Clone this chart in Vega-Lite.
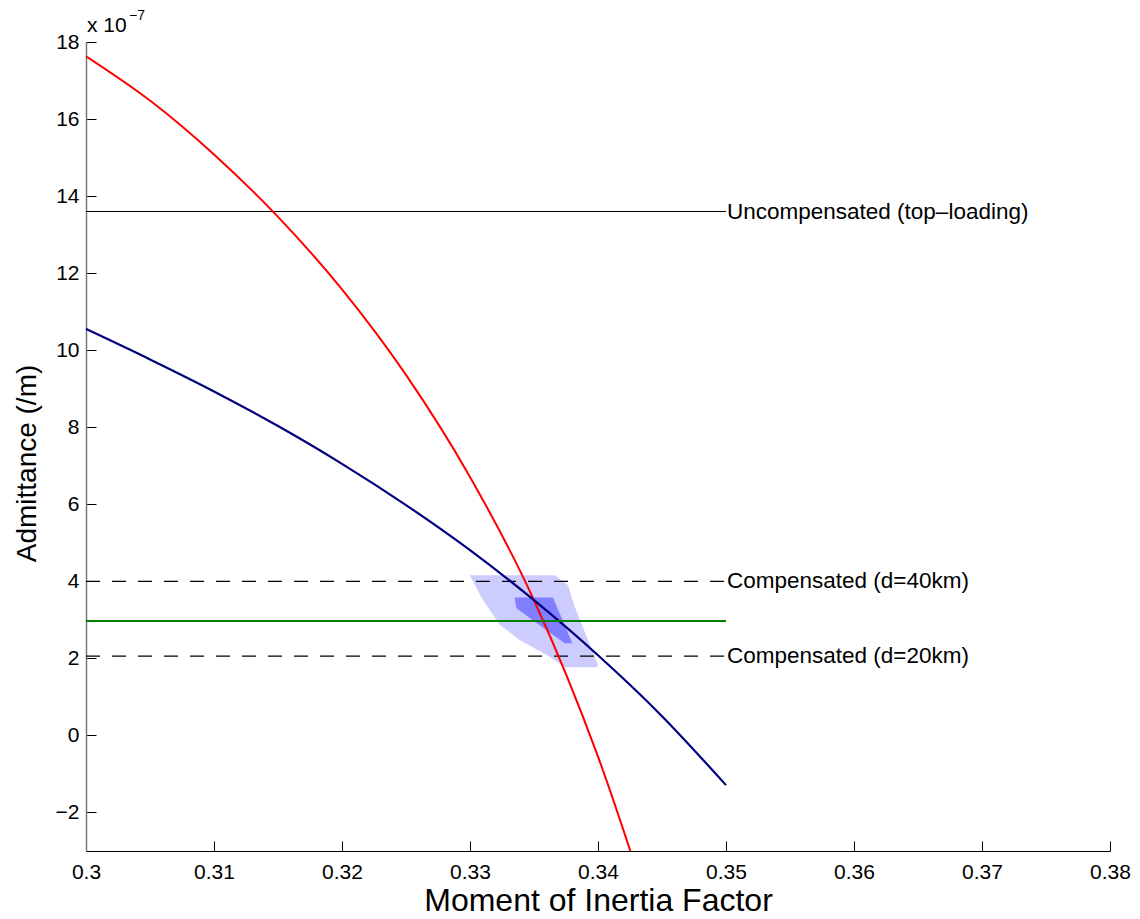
{
  "$schema": "https://vega.github.io/schema/vega-lite/v6.json",
  "autosize": {"type": "none"},
  "padding": {"left": 86, "top": 42, "right": 30, "bottom": 68},
  "width": 1024,
  "height": 809,
  "background": "white",
  "config": {
    "view": {"stroke": null},
    "font": "Liberation Sans",
    "axis": {
      "labelFont": "Liberation Sans",
      "titleFont": "Liberation Sans",
      "labelColor": "black",
      "titleColor": "black",
      "titleFontWeight": "normal",
      "domainColor": "black",
      "tickColor": "black",
      "grid": false
    }
  },
  "datasets": {
    "curves": [
      {"curve": "red", "x": 0.3, "y": 17.63},
      {"curve": "red", "x": 0.305, "y": 16.48},
      {"curve": "red", "x": 0.31, "y": 15.08},
      {"curve": "red", "x": 0.315, "y": 13.46},
      {"curve": "red", "x": 0.32, "y": 11.58},
      {"curve": "red", "x": 0.325, "y": 9.36},
      {"curve": "red", "x": 0.33, "y": 6.71},
      {"curve": "red", "x": 0.335, "y": 3.51},
      {"curve": "red", "x": 0.34, "y": -0.55},
      {"curve": "red", "x": 0.345, "y": -5.55},
      {"curve": "blue", "x": 0.3, "y": 10.55},
      {"curve": "blue", "x": 0.305, "y": 9.76},
      {"curve": "blue", "x": 0.31, "y": 8.93},
      {"curve": "blue", "x": 0.315, "y": 8.03},
      {"curve": "blue", "x": 0.32, "y": 7.05},
      {"curve": "blue", "x": 0.325, "y": 5.98},
      {"curve": "blue", "x": 0.33, "y": 4.81},
      {"curve": "blue", "x": 0.335, "y": 3.51},
      {"curve": "blue", "x": 0.34, "y": 2.08},
      {"curve": "blue", "x": 0.345, "y": 0.5},
      {"curve": "blue", "x": 0.35, "y": -1.29}
    ],
    "polys": [
      {"poly": "light", "i": 0, "x": 0.32998, "y": 4.16},
      {"poly": "light", "i": 1, "x": 0.33662, "y": 4.16},
      {"poly": "light", "i": 2, "x": 0.33766, "y": 3.9},
      {"poly": "light", "i": 3, "x": 0.33818, "y": 3.34},
      {"poly": "light", "i": 4, "x": 0.34, "y": 1.83},
      {"poly": "light", "i": 5, "x": 0.33988, "y": 1.77},
      {"poly": "light", "i": 6, "x": 0.3374, "y": 1.77},
      {"poly": "light", "i": 7, "x": 0.33623, "y": 2.04},
      {"poly": "light", "i": 8, "x": 0.33388, "y": 2.48},
      {"poly": "light", "i": 9, "x": 0.33232, "y": 2.87},
      {"poly": "light", "i": 10, "x": 0.33102, "y": 3.51},
      {"poly": "dark", "i": 0, "x": 0.33349, "y": 3.58},
      {"poly": "dark", "i": 1, "x": 0.33648, "y": 3.58},
      {"poly": "dark", "i": 2, "x": 0.338, "y": 2.39},
      {"poly": "dark", "i": 3, "x": 0.3374, "y": 2.39},
      {"poly": "dark", "i": 4, "x": 0.33545, "y": 2.86},
      {"poly": "dark", "i": 5, "x": 0.33363, "y": 3.3}
    ],
    "hlines": [
      {"kind": "solid", "x0": 0.3, "x1": 0.35, "y": 13.6, "label": "Uncompensated (top–loading)"},
      {"kind": "dashed", "x0": 0.3, "x1": 0.35, "y": 4.0, "label": "Compensated (d=40km)"},
      {"kind": "dashed", "x0": 0.3, "x1": 0.35, "y": 2.06, "label": "Compensated (d=20km)"},
      {"kind": "green", "x0": 0.3, "x1": 0.35, "y": 2.97, "label": ""}
    ],
    "exponent": [
      {"x": 0.3, "y": 18, "base": "x 10", "power": "−7"}
    ]
  },
  "encoding": {
    "x": {"type": "quantitative"},
    "y": {"type": "quantitative"}
  },
  "layer": [
    {
      "data": {"name": "polys"},
      "transform": [{"filter": "datum.poly === 'light'"}],
      "mark": {"type": "line", "interpolate": "linear-closed", "fill": "#ccccff", "stroke": null, "strokeWidth": 0},
      "encoding": {
        "x": {"field": "x", "type": "quantitative", "scale": {"domain": [0.3, 0.38], "nice": false, "zero": false},
          "axis": {"values": [0.3, 0.31, 0.32, 0.33, 0.34, 0.35, 0.36, 0.37, 0.38], "format": "~g", "title": "Moment of Inertia Factor",
            "labelFontSize": 21, "titleFontSize": 32, "tickSize": -10, "labelPadding": 20, "titlePadding": 3, "domainWidth": 1, "tickWidth": 1, "labelFlush": false, "labelOverlap": false}},
        "y": {"field": "y", "type": "quantitative", "scale": {"domain": [-3, 18], "nice": false, "zero": false},
          "axis": {"values": [-2, 0, 2, 4, 6, 8, 10, 12, 14, 16, 18], "format": "~g", "title": "Admittance (/m)",
            "labelFontSize": 21, "titleFontSize": 28, "tickSize": -10, "labelPadding": 17, "titlePadding": 14, "titleY": 421, "domainWidth": 1.5, "domainColor": "#777777", "tickWidth": 1, "labelFlush": false, "labelOverlap": false}},
        "order": {"field": "i", "type": "quantitative"}
      }
    },
    {
      "data": {"name": "polys"},
      "transform": [{"filter": "datum.poly === 'dark'"}],
      "mark": {"type": "line", "interpolate": "linear-closed", "fill": "#7f7fff", "stroke": null, "strokeWidth": 0},
      "encoding": {
        "x": {"field": "x", "type": "quantitative"},
        "y": {"field": "y", "type": "quantitative"},
        "order": {"field": "i", "type": "quantitative"}
      }
    },
    {
      "data": {"name": "hlines"},
      "transform": [{"filter": "datum.kind === 'solid'"}],
      "mark": {"type": "rule", "color": "black", "strokeWidth": 1.2},
      "encoding": {
        "x": {"field": "x0", "type": "quantitative"},
        "x2": {"field": "x1"},
        "y": {"field": "y", "type": "quantitative"}
      }
    },
    {
      "data": {"name": "hlines"},
      "transform": [{"filter": "datum.kind === 'dashed'"}],
      "mark": {"type": "rule", "color": "black", "strokeWidth": 1.2, "strokeDash": [14, 12]},
      "encoding": {
        "x": {"field": "x0", "type": "quantitative"},
        "x2": {"field": "x1"},
        "y": {"field": "y", "type": "quantitative"}
      }
    },
    {
      "data": {"name": "curves"},
      "transform": [{"filter": "datum.curve === 'red'"}],
      "mark": {"type": "line", "color": "#ff0000", "strokeWidth": 2, "clip": true, "interpolate": "monotone"},
      "encoding": {
        "x": {"field": "x", "type": "quantitative"},
        "y": {"field": "y", "type": "quantitative"}
      }
    },
    {
      "data": {"name": "curves"},
      "transform": [{"filter": "datum.curve === 'blue'"}],
      "mark": {"type": "line", "color": "#000080", "strokeWidth": 2.2, "interpolate": "monotone"},
      "encoding": {
        "x": {"field": "x", "type": "quantitative"},
        "y": {"field": "y", "type": "quantitative"}
      }
    },
    {
      "data": {"name": "hlines"},
      "transform": [{"filter": "datum.kind === 'green'"}],
      "mark": {"type": "rule", "color": "#008000", "strokeWidth": 2},
      "encoding": {
        "x": {"field": "x0", "type": "quantitative"},
        "x2": {"field": "x1"},
        "y": {"field": "y", "type": "quantitative"}
      }
    },
    {
      "data": {"name": "hlines"},
      "transform": [{"filter": "datum.label !== ''"}],
      "mark": {"type": "text", "align": "left", "baseline": "middle", "dx": 1, "fontSize": 22.5, "font": "Liberation Sans", "color": "black"},
      "encoding": {
        "x": {"field": "x1", "type": "quantitative"},
        "y": {"field": "y", "type": "quantitative"},
        "text": {"field": "label"}
      }
    },
    {
      "data": {"name": "exponent"},
      "mark": {"type": "text", "align": "left", "baseline": "alphabetic", "dx": 1, "dy": -10, "fontSize": 21, "font": "Liberation Sans", "color": "black"},
      "encoding": {
        "x": {"field": "x", "type": "quantitative"},
        "y": {"field": "y", "type": "quantitative"},
        "text": {"field": "base"}
      }
    },
    {
      "data": {"name": "exponent"},
      "mark": {"type": "text", "align": "left", "baseline": "alphabetic", "dx": 43, "dy": -22, "fontSize": 14, "font": "Liberation Sans", "color": "black"},
      "encoding": {
        "x": {"field": "x", "type": "quantitative"},
        "y": {"field": "y", "type": "quantitative"},
        "text": {"field": "power"}
      }
    }
  ]
}
